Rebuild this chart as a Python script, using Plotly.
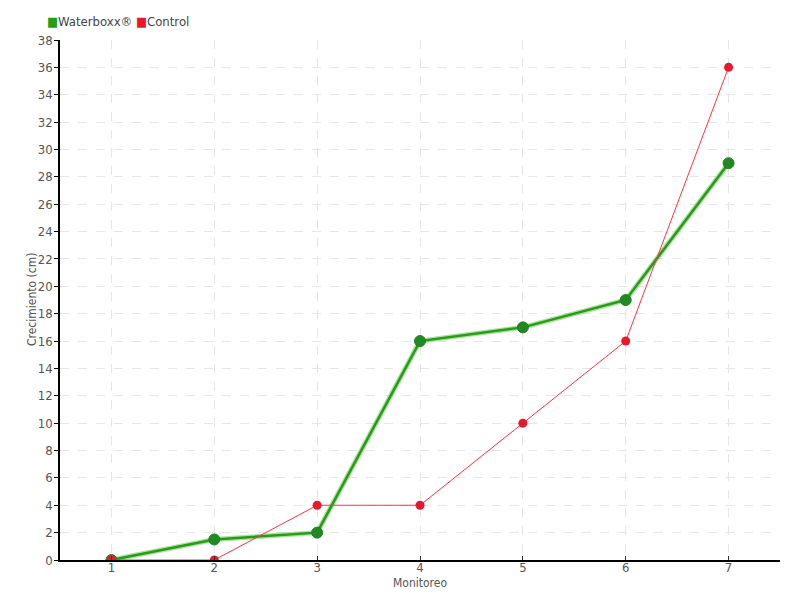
import plotly.graph_objects as go

monitoreo = [1, 2, 3, 4, 5, 6, 7]
waterboxx = [0, 1.5, 2, 16, 17, 19, 29]
control = [0, 0, 4, 4, 10, 16, 36]
y_ticks = list(range(0, 39, 2))
series_names = ["Waterboxx®", "Control"]

FONT = "DejaVu Sans Condensed, Roboto, sans-serif"
GREEN = "#22a012"
GREEN_DARK = "#1f8a1f"
RED = "#ff3344"
RED_DARK = "#e8192c"

fig = go.Figure()
fig.add_trace(go.Scatter(x=monitoreo, y=waterboxx, mode="lines",
                         line=dict(color="rgba(120,200,100,0.6)", width=5),
                         showlegend=False, hoverinfo="skip"))
fig.add_trace(go.Scatter(x=monitoreo, y=waterboxx, mode="lines+markers", name=series_names[0],
                         line=dict(color=GREEN, width=2.5),
                         marker=dict(size=11, color=GREEN_DARK, line=dict(color="#2a7a2a", width=1)),
                         showlegend=False))
fig.add_trace(go.Scatter(x=monitoreo, y=control, mode="lines+markers", name=series_names[1],
                         line=dict(color=RED, width=1),
                         marker=dict(size=9, color=RED_DARK),
                         showlegend=False))

fig.update_layout(
    width=792, height=592,
    margin=dict(l=52, r=20, t=32, b=40, autoexpand=False),
    paper_bgcolor="white", plot_bgcolor="white",
    font=dict(family=FONT, size=13, color="#555555"),
    showlegend=False,
    xaxis=dict(range=[0.5, 7.5], tickvals=monitoreo, ticktext=[str(m) for m in monitoreo],
               showgrid=True, gridcolor="#e6e6e6", griddash="dash", gridwidth=1,
               showline=True, linecolor="black", linewidth=1.5,
               ticks="inside", ticklen=4, tickcolor="#333333",
               ticklabelstandoff=-5,
               zeroline=False, automargin=False),
    yaxis=dict(range=[0, 38], tickvals=y_ticks,
               showgrid=True, gridcolor="#e6e6e6", griddash="dash", gridwidth=1,
               showline=True, linecolor="black", linewidth=1.5,
               ticks="outside", ticklen=4, tickcolor="black",
               ticklabelstandoff=-1,
               zeroline=False, automargin=False),
)

# y-axis title
fig.add_annotation(text="Crecimiento (cm)", xref="paper", yref="paper",
                   x=(32 - 60) / 720, y=0.5, textangle=-90,
                   xanchor="center", yanchor="middle", showarrow=False,
                   font=dict(size=12, color="#555555"))

# x-axis title
fig.add_annotation(text="Monitoreo", xref="paper", yref="paper", x=0.5, y=-(23 / 520),
                   xanchor="center", yanchor="middle", showarrow=False,
                   font=dict(size=12, color="#555555"))

# legend (square markers + names)
fig.add_annotation(
    text=f"<span style='color:{GREEN}'>■</span>{series_names[0]} "
         f"<span style='color:{RED_DARK}'>■</span>{series_names[1]}",
    xref="paper", yref="paper", x=(45 - 60) / 720, y=1 + 18 / 520,
    xanchor="left", yanchor="middle", showarrow=False,
    font=dict(size=13, color="#444444"))

fig.write_html("out.html")
